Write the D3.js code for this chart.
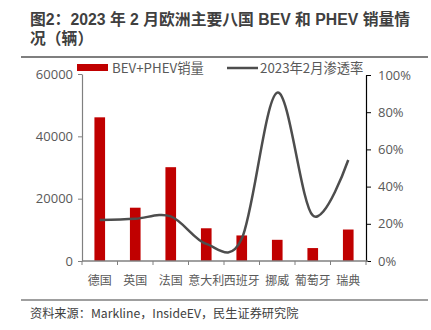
<!DOCTYPE html>
<html>
<head>
<meta charset="utf-8">
<script src="https://cdn.jsdelivr.net/npm/d3@7"></script>
<style>
  html, body { margin: 0; padding: 0; background: #fff; }
  svg { display: block; font-family: "Noto Sans CJK SC", "Noto Sans", sans-serif; }
</style>
</head>
<body>
<svg id="chart" width="431" height="330"></svg>
<script>
const titleLines = ["图2：2023 年 2 月欧洲主要八国 BEV 和 PHEV 销量情", "况（辆）"];
const source = "资料来源：Markline，InsideEV，民生证券研究院";
const categories = ["德国", "英国", "法国", "意大利", "西班牙", "挪威", "葡萄牙", "瑞典"];
const sales = [46100, 17100, 30100, 10500, 8200, 6800, 4150, 10100];
const penetration = [0.22, 0.227, 0.24, 0.092, 0.12, 0.905, 0.245, 0.543];
const leftTicks = [0, 20000, 40000, 60000];
const rightTicks = [0, 0.2, 0.4, 0.6, 0.8, 1.0];
const seriesNames = ["BEV+PHEV销量", "2023年2月渗透率"];

const svg = d3.select("#chart");
const textColor = "#595959";

// Title (one text element, wrapped into two lines)
const title = svg.append("text")
  .attr("font-family", "'Liberation Sans', 'Noto Sans CJK SC', sans-serif")
  .attr("font-size", 15.8).attr("font-weight", "bold").attr("fill", "#404040");
title.selectAll("tspan").data(titleLines).join("tspan")
  .attr("x", 30).attr("y", (d, i) => 24.5 + i * 19)
  .text(d => d);
svg.append("line").attr("x1", 21).attr("x2", 428).attr("y1", 57).attr("y2", 57)
  .attr("stroke", "#7f7f7f").attr("stroke-width", 2);

// Scales
const x = d3.scaleBand().domain(categories).range([82, 366]).paddingInner(0.7).paddingOuter(0.35);
const yL = d3.scaleLinear().domain([0, 60000]).range([261, 74]);
const yR = d3.scaleLinear().domain([0, 1]).range([261, 75]);

// Bars
svg.append("g").selectAll("rect").data(sales).join("rect")
  .attr("x", (d, i) => x(categories[i]))
  .attr("width", x.bandwidth())
  .attr("y", d => yL(d))
  .attr("height", d => yL(0) - yL(d))
  .attr("fill", "#c00000");

// Left axis
const gL = svg.append("g").attr("transform", "translate(82,0)")
  .call(d3.axisLeft(yL).tickValues(leftTicks).tickFormat(d3.format("d")).tickSize(4).tickSizeOuter(0));
gL.select(".domain").attr("stroke", "#808080").attr("stroke-width", 1.2);
gL.selectAll(".tick line").attr("stroke", "#808080");
gL.selectAll(".tick text").attr("font-size", 13).attr("fill", textColor).attr("x", -9)
  .attr("font-family", "'Open Sans', 'Noto Sans', sans-serif");

// Right axis
const gR = svg.append("g").attr("transform", "translate(366,0)")
  .call(d3.axisRight(yR).tickValues(rightTicks).tickFormat(d3.format(".0%")).tickSize(5).tickSizeOuter(0));
gR.select(".domain").attr("stroke", "#000").attr("stroke-width", 1.2);
gR.selectAll(".tick line").attr("stroke", "#000");
gR.selectAll(".tick text").attr("font-size", 13).attr("fill", textColor).attr("x", 12)
  .attr("font-family", "'Open Sans', 'Noto Sans', sans-serif");

// X axis
const gX = svg.append("g").attr("transform", "translate(0,261)");
gX.append("line").attr("x1", 82).attr("x2", 368).attr("y1", 0).attr("y2", 0)
  .attr("stroke", "#808080").attr("stroke-width", 1.5);
const edges = d3.range(categories.length + 1).map(i => 82 + i * x.step());
gX.selectAll("line.tk").data(edges).join("line").attr("class", "tk")
  .attr("x1", d => d).attr("x2", d => d).attr("y1", 0).attr("y2", 4)
  .attr("stroke", "#808080");
gX.selectAll("text").data(categories).join("text")
  .attr("x", d => x(d) + x.bandwidth() / 2).attr("y", 24)
  .attr("text-anchor", "middle").attr("font-size", 12).attr("fill", textColor)
  .text(d => d);

// Line
const line = d3.line()
  .x((d, i) => x(categories[i]) + x.bandwidth() / 2)
  .y(d => yR(d))
  .curve(d3.curveCardinal.tension(0));
svg.append("path").datum(penetration).attr("d", line)
  .attr("fill", "none").attr("stroke", "#4d4d4d").attr("stroke-width", 2.5);

// Legend
const lg = svg.append("g");
lg.append("rect").attr("x", 77).attr("y", 64).attr("width", 31).attr("height", 7).attr("fill", "#c00000");
lg.append("text").attr("x", 112).attr("y", 72.5).attr("font-size", 13.3).attr("fill", textColor).text(seriesNames[0]);
lg.append("line").attr("x1", 227).attr("x2", 258).attr("y1", 68).attr("y2", 68)
  .attr("stroke", "#4d4d4d").attr("stroke-width", 2.5);
lg.append("text").attr("x", 260).attr("y", 72.5).attr("font-size", 13.3).attr("fill", textColor).text(seriesNames[1]);

// Footer
svg.append("line").attr("x1", 21).attr("x2", 428).attr("y1", 300).attr("y2", 300)
  .attr("stroke", "#7f7f7f").attr("stroke-width", 1.5);
svg.append("text").attr("x", 30).attr("y", 317.5).attr("font-size", 12.2).attr("fill", "#404040").text(source);
</script>
</body>
</html>
